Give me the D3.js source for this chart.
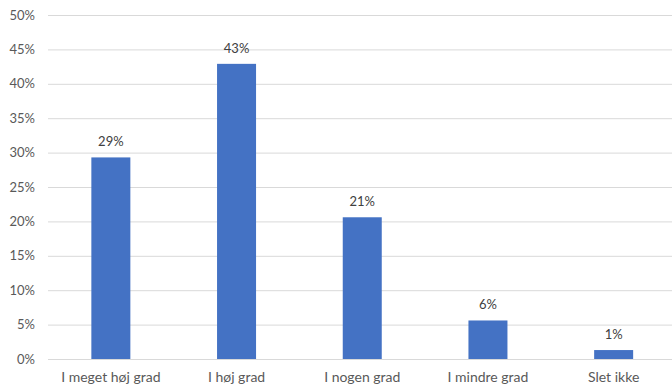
<!DOCTYPE html>
<html><head><meta charset="utf-8">
<script src="https://cdn.jsdelivr.net/npm/d3@7"></script>
<style>body{margin:0;background:#fff;}svg{display:block;font-family:Lato, "Open Sans", sans-serif;}</style>
</head><body>
<svg id="chart" width="672" height="385"></svg>
<script>
const categories = ["I meget høj grad", "I høj grad", "I nogen grad", "I mindre grad", "Slet ikke"];
const values = [29.3, 42.9, 20.6, 5.6, 1.3];
const valueLabels = ["29%", "43%", "21%", "6%", "1%"];
const yTicks = [0, 5, 10, 15, 20, 25, 30, 35, 40, 45, 50];

(function () {
const svg = d3.select("#chart");
const mLeft = 48, mRight = 676.5, mTop = 15, mBottom = 359;
const x = d3.scaleBand().domain(categories).range([mLeft, mRight]).paddingInner(0).paddingOuter(0);
const y = d3.scaleLinear().domain([0, 50]).range([mBottom, mTop]);
const barW = 39;

const yAxis = d3.axisLeft(y).tickValues(yTicks).tickFormat(d => d + "%").tickSize(-(mRight - mLeft)).tickPadding(13);
const gy = svg.append("g").attr("transform", `translate(${mLeft},0)`).call(yAxis);
gy.select(".domain").remove();
gy.selectAll(".tick line").attr("stroke", "#d9d9d9").attr("stroke-width", 1);
gy.selectAll(".tick text").attr("fill", "#595959").style("font-size", "13px").style("font-family", "Lato, 'Open Sans', sans-serif");

svg.append("g").selectAll("rect").data(values).join("rect")
  .attr("x", (d, i) => x(categories[i]) + x.bandwidth() / 2 - barW / 2)
  .attr("width", barW)
  .attr("y", d => y(d))
  .attr("height", d => y(0) - y(d))
  .attr("fill", "#4472c4");

svg.append("g").selectAll("text").data(values).join("text")
  .attr("x", (d, i) => x(categories[i]) + x.bandwidth() / 2)
  .attr("y", d => y(d) - 11)
  .attr("text-anchor", "middle")
  .attr("fill", "#404040")
  .style("font-size", "13px")
  .text((d, i) => valueLabels[i]);

const xAxis = d3.axisBottom(x).tickSize(0).tickPadding(13);
const gx = svg.append("g").attr("transform", `translate(0,${mBottom})`).call(xAxis);
gx.select(".domain").remove();
gx.selectAll(".tick text").attr("fill", "#595959").style("font-size", "14px").style("font-family", "Lato, 'Open Sans', sans-serif");
})();
</script>
</body></html>
